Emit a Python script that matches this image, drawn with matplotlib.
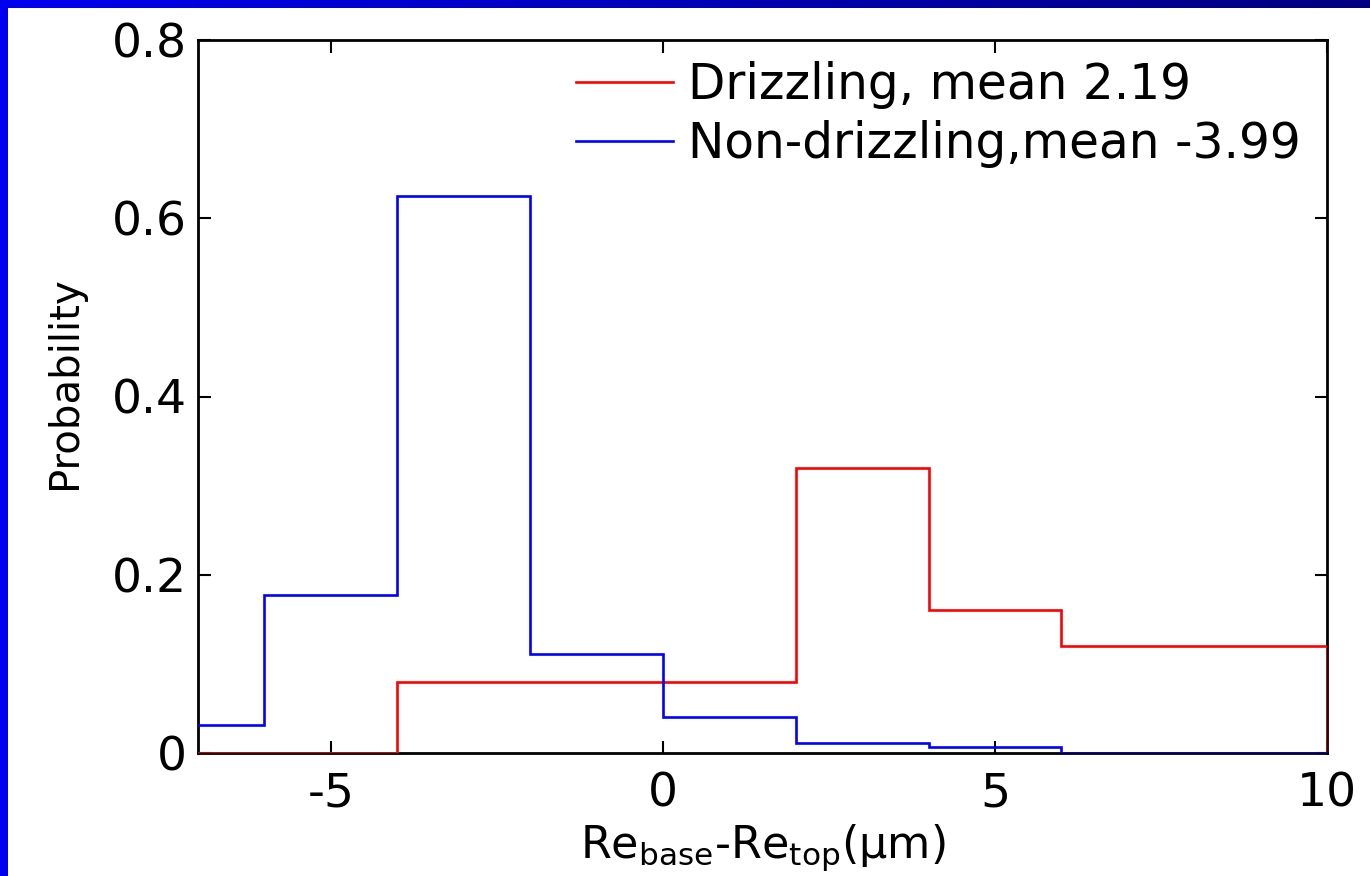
import numpy as np
import matplotlib
matplotlib.use("Agg")
import matplotlib.pyplot as plt
from matplotlib.patches import Rectangle
from matplotlib.colors import LinearSegmentedColormap

# Data
bin_edges = [-8, -6, -4, -2, 0, 2, 4, 6, 8, 10]
drizzling = [0.0, 0.0, 0.08, 0.08, 0.08, 0.32, 0.16, 0.12, 0.12]
non_drizzling = [0.031, 0.177, 0.625, 0.111, 0.040, 0.011, 0.007, 0.0, 0.0]
labels = ["Drizzling, mean 2.19", "Non-drizzling,mean -3.99"]
xticks = [-5, 0, 5, 10]
yticks = [0, 0.2, 0.4, 0.6, 0.8]
yticklabels = ["0", "0.2", "0.4", "0.6", "0.8"]

plt.rcParams['font.family'] = ['DejaVu Sans']
plt.rcParams['mathtext.fontset'] = 'dejavusans'

W, H = 1370, 876
fig = plt.figure(figsize=(W / 100, H / 100), dpi=100)
fig.patch.set_facecolor('white')

# Border (blue strips, top with gradient)
top_ax = fig.add_axes([0, 1 - 8 / H, 1, 8 / H])
grad = np.linspace(0, 1, 256).reshape(1, -1)
cmap = LinearSegmentedColormap.from_list('b', ['#0000f0', '#000080'])
top_ax.imshow(grad, aspect='auto', cmap=cmap, extent=[0, 1, 0, 1])
top_ax.set_axis_off()
fig.patches.append(Rectangle((0, 0), 8 / W, 1, transform=fig.transFigure,
                             facecolor='#0000f0', edgecolor='none', zorder=5))

ax = fig.add_axes([198 / W, 1 - 753 / H, (1327 - 198) / W, (753 - 40) / H])
ax.stairs(drizzling, bin_edges, baseline=0, color='#ff0000', lw=1.9,
          label=labels[0], zorder=3)
ax.stairs(non_drizzling, bin_edges, baseline=0, color='#0000ff', lw=1.9,
          label=labels[1], zorder=3)

ax.set_xlim(-7, 10)
ax.set_ylim(0, 0.8)
ax.set_xticks(xticks)
ax.set_xticklabels([str(t) for t in xticks])
ax.set_yticks(yticks)
ax.set_yticklabels(yticklabels)
ax.tick_params(direction='in', length=9, width=1.5, top=True, right=True,
               labelsize=34)
ax.tick_params(axis='x', pad=13)
ax.tick_params(axis='y', pad=8)
for s in ax.spines.values():
    s.set_linewidth(2.0)

ax.set_ylabel('Probability', fontsize=29)
ax.yaxis.set_label_coords(-0.100, 0.52)
ax.set_xlabel(r'Re$_{\rm base}$-Re$_{\rm top}$(μm)', fontsize=32, labelpad=4)

leg = ax.legend(loc='upper right', frameon=False, fontsize=35,
                handlelength=2.0, handletextpad=0.3, labelspacing=0.22,
                borderaxespad=0.0, bbox_to_anchor=(0.994, 0.998))

fig.savefig('out.png', dpi=100, facecolor='white')
